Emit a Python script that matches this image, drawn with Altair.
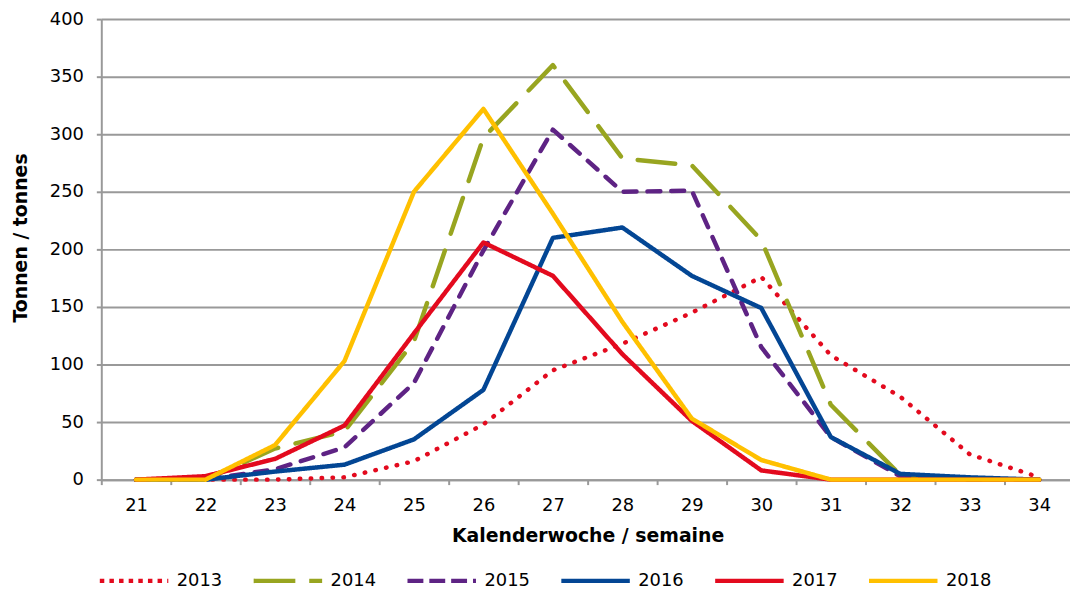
import altair as alt
import pandas as pd

weeks = [21, 22, 23, 24, 25, 26, 27, 28, 29, 30, 31, 32, 33, 34]
years = ["2013", "2014", "2015", "2016", "2017", "2018"]
v2013 = [0, 0, 0, 2, 16, 48, 95, 118, 145, 176, 108, 72, 22, 2]
v2014 = [0, 0, 27, 42, 120, 297, 360, 279, 273, 208, 65, 4, 0, 0]
v2015 = [0, 0, 9, 28, 84, 199, 304, 250, 251, 115, 37, 3, 0, 0]
v2016 = [0, 0, 7, 13, 35, 78, 210, 219, 177, 149, 37, 5, 2, 0]
v2017 = [0, 3, 18, 47, 127, 206, 177, 109, 51, 8, 0, 0, 0, 0]
v2018 = [0, 0, 30, 103, 250, 322, 231, 137, 53, 17, 0, 0, 0, 0]
series = [v2013, v2014, v2015, v2016, v2017, v2018]

colors = ["#E30A1E", "#98A520", "#5E2384", "#034694", "#E30A1E", "#FFC000"]
# dash patterns for the lines (round caps) and for the legend symbols (butt caps)
line_dashes = [[0.5, 10.5], [38, 18], [13, 11], [1, 0], [1, 0], [1, 0]]
legend_dashes = [[4.5, 5.2], [42, 14], [16, 6], [1, 0], [1, 0], [1, 0]]

rows = []
for y, vals in zip(years, series):
    for w, v in zip(weeks, vals):
        rows.append({"Woche": str(w), "Jahr": y, "Tonnen": v})
df = pd.DataFrame(rows)

FONT = "DejaVu Sans"

x_enc = alt.X("Woche:O", sort=[str(w) for w in weeks], bandPosition=0.5,
              scale=alt.Scale(type="band", paddingInner=0, paddingOuter=0, range=[0, 980]),
              axis=alt.Axis(title="Kalenderwoche / semaine", labelAngle=0, tickBand="extent",
                            grid=False, tickSize=5, labelPadding=12, titlePadding=12))
y_enc = alt.Y("Tonnen:Q", scale=alt.Scale(domain=[0, 400], nice=False),
              axis=alt.Axis(title="Tonnen / tonnes", values=list(range(0, 401, 50)),
                            tickSize=5, labelPadding=13, titlePadding=19, titleY=220))

base = alt.Chart(df)

lines = base.mark_line(strokeWidth=4.5, strokeCap="round", strokeJoin="round").encode(
    x=x_enc,
    y=y_enc,
    color=alt.Color("Jahr:N", scale=alt.Scale(domain=years, range=colors), legend=None),
    strokeDash=alt.StrokeDash("Jahr:N", scale=alt.Scale(domain=years, range=line_dashes), legend=None),
    order=alt.Order("Jahr:N"),
)

leg = dict(title=None, orient="none", direction="horizontal",
           legendX=-4, legendY=529, symbolType="stroke",
           symbolSize=4761, symbolStrokeWidth=4.5,
           columnPadding=22, labelOffset=6, padding=0)

legend_layer = base.transform_filter("false").mark_line(strokeWidth=4.5).encode(
    x=alt.X("Woche:O", sort=[str(w) for w in weeks]),
    y=alt.Y("Tonnen:Q"),
    color=alt.Color("Jahr:N", scale=alt.Scale(domain=years, range=colors),
                    legend=alt.Legend(**leg)),
    strokeDash=alt.StrokeDash("Jahr:N", scale=alt.Scale(domain=years, range=legend_dashes),
                              legend=alt.Legend(**leg)),
)

chart = alt.layer(lines, legend_layer).resolve_scale(
    color="independent", strokeDash="independent"
).properties(
    width=976, height=464,
    autosize=alt.AutoSizeParams(type="none"),
    padding={"left": 94, "top": 9, "right": 0, "bottom": 109},
).configure_view(stroke=None).configure_axis(
    labelFont=FONT, titleFont=FONT, labelFontSize=18, titleFontSize=19,
    labelColor="#000000", titleColor="#000000", titleFontWeight="bold",
    domainColor="#999999", tickColor="#999999", gridColor="#999999",
    domainWidth=2, tickWidth=2, gridWidth=2, gridOpacity=1,
).configure_legend(
    labelFont=FONT, labelFontSize=18, labelColor="#000000",
)

chart.save("out.html", embed_options={"renderer": "svg", "actions": False})
